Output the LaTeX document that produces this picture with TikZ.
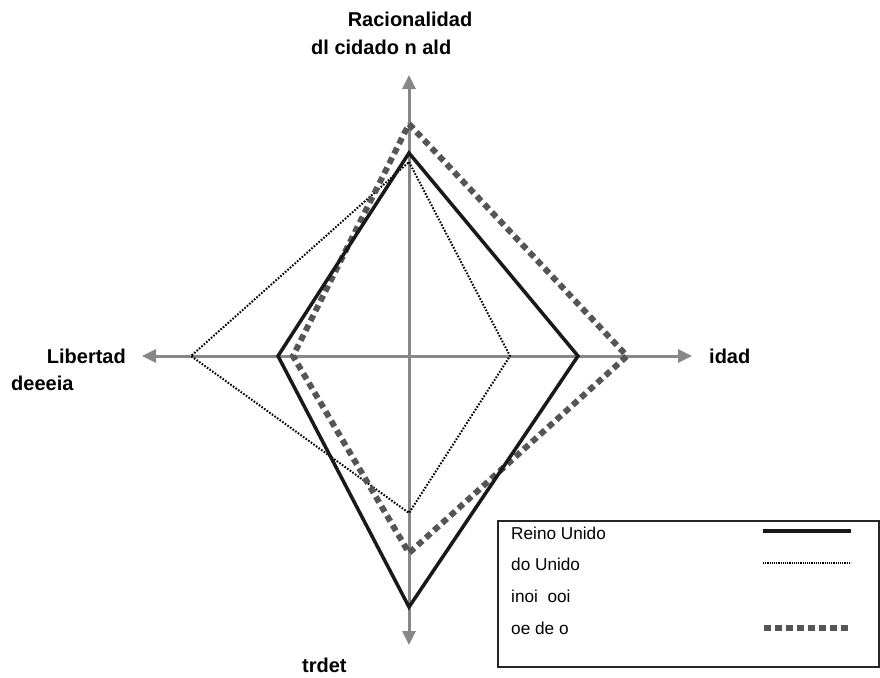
\documentclass[tikz,border=0pt]{standalone}
\usepackage{fontspec}
\setmainfont{Liberation Sans}
\usetikzlibrary{arrows.meta}
\definecolor{axisgray}{RGB}{135,135,135}
\definecolor{dashgray}{RGB}{85,85,85}
\tikzset{
  axisline/.style={draw=axisgray, line width=3pt, -{Triangle[length=14pt,width=13pt]}},
  axlabel/.style={font=\bfseries\fontsize{20}{22}\selectfont, inner sep=0pt, text=black},
  leglabel/.style={font=\fontsize{17.2}{19}\selectfont, inner sep=0pt, anchor=west, text=black},
  ruk/.style={draw=black!90, line width=3.5pt, line join=miter},
  rdot/.style={draw=black, line width=2pt, dash pattern=on 1.6pt off 1.6pt},
  rdash/.style={draw=dashgray, line width=6pt, dash pattern=on 6.5pt off 4.5pt},
}
\begin{document}
\begin{tikzpicture}[x=1pt,y=-1pt]
\useasboundingbox (0,0) rectangle (880,677);
% axes
\coordinate (O) at (409,356);
\coordinate (Tt) at (409,75);
\coordinate (Tb) at (409,645);
\coordinate (Tl) at (142,356);
\coordinate (Tr) at (692,356);
\draw[axisline] (O) -- (Tt);
\draw[axisline] (O) -- (Tb);
\draw[axisline] (O) -- (Tl);
\draw[axisline] (O) -- (Tr);
% polygons
\coordinate (a1) at (409,162); \coordinate (a2) at (510,356); \coordinate (a3) at (409,513); \coordinate (a4) at (191,356);
\draw[rdot] (a1) -- (a2) -- (a3) -- (a4) -- cycle;
\coordinate (b1) at (409,124); \coordinate (b2) at (627,356); \coordinate (b3) at (409,553); \coordinate (b4) at (293,356);
\draw[rdash] (b1) -- (b2) -- (b3) -- (b4) -- cycle;
\coordinate (c1) at (409,153); \coordinate (c2) at (578,356); \coordinate (c3) at (409,607); \coordinate (c4) at (278,356);
\draw[ruk] (c1) -- (c2) -- (c3) -- (c4) -- cycle;
% axis labels
\node[axlabel] (lt1) at (410,19) {Racionalidad};
\node[axlabel, anchor=west] (lt2) at (311,47) {dl cidado n ald};
\node[axlabel, anchor=east] (ll1) at (126,356) {Libertad};
\node[axlabel, anchor=west] (ll2) at (11,383) {deeeia};
\node[axlabel, anchor=west] (lr) at (709,356) {idad};
\node[axlabel, anchor=west] (lb) at (302,665) {trdet};
% legend
\node[draw=black!85, line width=1.5pt, minimum width=381pt, minimum height=146pt, inner sep=0pt, anchor=north west] (leg) at (497,520) {};
\node[leglabel] (g1) at (511,533) {Reino Unido};
\node[leglabel] (g2) at (511,564) {do Unido};
\node[leglabel] (g3) at (511,596) {inoi\ \ ooi};
\node[leglabel] (g4) at (511,628) {oe de o};
\coordinate (s1a) at (763,531); \coordinate (s1b) at (851,531);
\coordinate (s2a) at (763,563); \coordinate (s2b) at (851,563);
\coordinate (s4a) at (764,628); \coordinate (s4b) at (848,628);
\draw[ruk] (s1a) -- (s1b);
\draw[draw=black, line width=1.5pt, dash pattern=on 1.1pt off 1.1pt] (s2a) -- (s2b);
\draw[rdash, dash pattern=on 7pt off 4pt] (s4a) -- (s4b);
\end{tikzpicture}
\end{document}
